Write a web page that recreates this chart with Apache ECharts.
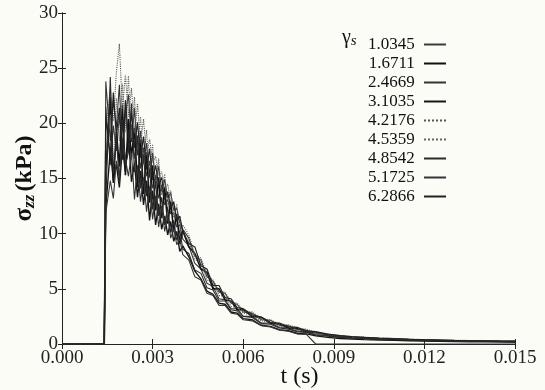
<!DOCTYPE html>
<html>
<head>
<meta charset="utf-8">
<script src="https://cdn.jsdelivr.net/npm/echarts@6/dist/echarts.min.js"></script>
<style>
  html, body { margin: 0; padding: 0; background: #fcfcf7; }
  #chart { width: 545px; height: 390px; }
</style>
</head>
<body>
<div id="chart"></div>
<script>
// time samples (s)
const times = [0, 0.0014, 0.00145, 0.0016, 0.0017, 0.0018, 0.0019, 0.0020, 0.0021, 0.0022, 0.0023, 0.0024, 0.0025, 0.0026, 0.0027, 0.0028, 0.0029, 0.0030, 0.0031, 0.0032, 0.0033, 0.0034, 0.0035, 0.0036, 0.0037, 0.0038, 0.0039, 0.0040,
  0.0042, 0.0044, 0.0046, 0.0048, 0.0050, 0.0052, 0.0054, 0.0056, 0.0058, 0.0060,
  0.0063, 0.0066, 0.0069, 0.0072, 0.0075, 0.0078, 0.0081, 0.0084,
  0.0088, 0.0092, 0.0096, 0.0100,
  0.0105, 0.0110, 0.0115, 0.0120, 0.0125, 0.0130, 0.0135, 0.0140, 0.0145, 0.0150];

const seriesNames = ['1.0345', '1.6711', '2.4669', '3.1035', '4.2176', '4.5359', '4.8542', '5.1725', '6.2866'];

const s1 = [0, 0, 21.5, 16.2, 19.8, 17.5, 20.6, 18.1, 21.2, 17.4, 19.9, 16.8, 18.7, 15.9, 17.8, 15.2, 16.6, 14.1, 15.3, 13.2, 14.4, 12.6, 13.1, 11.8, 11.9, 10.6, 10.8, 9.5,
  8.9, 7.3, 6.8, 5.5, 5.2, 4.1, 4.0, 3.2, 3.2, 2.5, 2.5, 1.9, 1.9, 1.5, 1.45, 1.15, 1.1, 0.85,
  0.75, 0.62, 0.55, 0.5, 0.44, 0.4, 0.36, 0.33, 0.3, 0.28, 0.26, 0.24, 0.22, 0.21];
const s2 = [0, 0, 15.8, 22.4, 14.6, 19.2, 16.1, 21.7, 15.3, 20.4, 16.9, 19.6, 14.2, 18.5, 13.6, 17.4, 12.8, 16.2, 12.1, 15.1, 11.4, 14.2, 10.9, 12.9, 10.2, 11.8, 9.1, 10.3,
  8.8, 8.2, 6.8, 6.5, 5.0, 5.0, 4.0, 3.9, 3.1, 3.1, 2.5, 2.4, 1.9, 1.8, 1.45, 1.4, 1.1, 1.05,
  0.82, 0.7, 0.6, 0.55, 0.48, 0.43, 0.39, 0.35, 0.32, 0.3, 0.28, 0.26, 0.24, 0.23];
const s3 = [0, 0, 23.8, 18.4, 22.1, 19.6, 23.5, 17.2, 20.8, 22.6, 18.3, 21.4, 17.1, 19.3, 16.4, 18.2, 15.1, 17.3, 14.6, 16.1, 13.8, 14.9, 13.2, 13.7, 12.1, 12.3, 11.0, 10.4,
  9.6, 8.0, 7.6, 6.1, 5.7, 4.7, 4.6, 3.7, 3.6, 2.9, 2.8, 2.2, 2.15, 1.7, 1.65, 1.3, 1.25, 1.0,
  0.88, 0.74, 0.64, 0.6, 0.52, 0.46, 0.42, 0.38, 0.35, 0.32, 0.3, 0.28, 0.26, 0.25];
const s4 = [0, 0, 12.4, 17.6, 14.8, 16.3, 14.2, 17.8, 15.6, 18.9, 14.7, 16.4, 13.3, 15.7, 12.6, 14.8, 11.2, 13.9, 10.8, 12.7, 10.4, 11.6, 9.9, 11.1, 9.3, 10.2, 8.4, 8.9,
  7.9, 6.6, 5.9, 4.8, 4.5, 3.7, 3.6, 2.9, 2.8, 2.3, 2.2, 1.7, 1.6, 1.3, 1.2, 0.95, 0.92, 0.74,
  0.6, 0.5, 0.44, 0.4, 0.36, 0.33, 0.3, 0.27, 0.25, 0.23, 0.21, 0.2, 0.19, 0.18];
const s5 = [0, 0, 19.4, 23.1, 20.2, 24.6, 27.2, 21.3, 24.4, 20.6, 23.2, 19.1, 21.8, 18.2, 20.4, 17.1, 18.6, 16.4, 17.0, 15.3, 15.6, 14.2, 14.5, 12.9, 12.6, 11.5, 11.2, 10.1,
  9.3, 7.7, 7.3, 5.8, 5.5, 4.4, 4.3, 3.4, 3.3, 2.8, 2.6, 2.1, 2.0, 1.6, 1.55, 1.25, 1.15, 0.9,
  0.8, 0.68, 0.6, 0.55, 0.48, 0.44, 0.4, 0.36, 0.33, 0.31, 0.29, 0.27, 0.25, 0.24];
const s6 = [0, 0, 17.3, 20.8, 16.1, 22.3, 18.4, 23.6, 19.2, 24.3, 18.7, 22.4, 17.6, 20.6, 16.3, 19.4, 15.4, 18.1, 14.2, 16.8, 13.5, 15.4, 12.4, 13.9, 11.5, 12.7, 10.3, 10.8,
  9.9, 8.1, 7.8, 6.3, 5.8, 4.8, 4.7, 3.8, 3.7, 3.0, 2.9, 2.3, 2.2, 1.8, 1.75, 1.45, 1.35, 1.05,
  0.9, 0.78, 0.66, 0.62, 0.55, 0.5, 0.45, 0.4, 0.37, 0.34, 0.32, 0.3, 0.28, 0.27];
const s7 = [0, 0, 13.1, 24.2, 15.4, 18.8, 14.6, 20.3, 16.2, 17.4, 21.8, 15.6, 18.9, 14.1, 17.2, 13.4, 15.9, 12.2, 14.7, 11.6, 13.3, 10.8, 12.4, 10.1, 11.2, 9.4, 10.3, 8.6,
  8.2, 6.7, 6.4, 5.1, 4.9, 3.9, 3.9, 3.1, 3.0, 2.5, 2.4, 1.85, 1.8, 1.45, 1.35, 1.1, 1.05, 0.8,
  0.7, 0.6, 0.52, 0.47, 0.42, 0.38, 0.34, 0.31, 0.28, 0.26, 0.24, 0.22, 0.2, 0.19];
const s8 = [0, 0, 11.9, 14.8, 13.2, 16.6, 15.1, 18.4, 16.8, 15.2, 17.3, 13.1, 16.2, 12.9, 15.1, 12.0, 14.3, 11.3, 13.4, 10.6, 12.5, 10.2, 11.6, 9.6, 10.4, 9.0, 9.5, 8.1,
  7.6, 6.1, 5.8, 4.6, 4.4, 3.5, 3.5, 2.8, 2.7, 2.2, 2.1, 1.65, 1.55, 1.25, 1.15, 0.9, 0.86, 0,
  0, 0, 0, 0, 0, 0, 0, 0, 0, 0, 0, 0, 0, 0];
const s9 = [0, 0, 20.6, 17.1, 22.8, 18.9, 21.4, 16.7, 22.1, 18.6, 20.9, 17.8, 20.1, 16.9, 18.8, 15.8, 17.7, 14.9, 16.2, 14.4, 15.1, 13.1, 13.8, 12.3, 12.9, 11.1, 11.6, 10.2,
  9.1, 8.8, 7.1, 6.8, 5.3, 5.3, 4.2, 4.1, 3.3, 3.2, 2.65, 2.45, 1.95, 1.9, 1.55, 1.5, 1.2, 1.12,
  0.9, 0.76, 0.66, 0.6, 0.53, 0.48, 0.43, 0.39, 0.36, 0.33, 0.31, 0.29, 0.27, 0.26];

const allValues = [s1, s2, s3, s4, s5, s6, s7, s8, s9];

const xTickLabels = ['0.000', '0.003', '0.006', '0.009', '0.012', '0.015'];
const yTickLabels = ['0', '5', '10', '15', '20', '25', '30'];

// styles
const lineColors = ['#3a3a3a', '#111111', '#333333', '#161616', '#555555', '#666666', '#2a2a2a', '#353535', '#222222'];
const lineWidths = [1.1, 1.6, 1.1, 1.4, 1.1, 1.1, 1.1, 1.1, 1.2];
const lineTypes = ['solid', 'solid', 'solid', 'solid', 'dotted', 'dotted', 'solid', 'solid', 'solid'];

const serif = 'Liberation Serif';

const series = seriesNames.map((name, i) => ({
  name: name,
  type: 'line',
  xAxisIndex: 0,
  yAxisIndex: 0,
  symbol: 'none',
  showSymbol: false,
  animation: false,
  data: times.map((t, j) => [t, allValues[i][j]]),
  lineStyle: { color: lineColors[i], width: lineWidths[i], type: lineTypes[i] },
  itemStyle: { color: lineColors[i] }
}));

const chart = echarts.init(document.getElementById('chart'), null, { renderer: 'canvas' });
chart.setOption({
  backgroundColor: '#fcfcf7',
  animation: false,
  grid: { left: 62, right: 30, top: 13, bottom: 46, containLabel: false, outerBoundsMode: 'none' },
  xAxis: [{
    type: 'value', min: 0, max: 0.015, interval: 0.003,
    name: 't (s)', nameLocation: 'middle', nameGap: 21, nameMoveOverlap: false,
    nameTextStyle: { fontFamily: serif, fontSize: 24, color: '#111', padding: [0, 0, 0, 22] },
    axisLine: { show: true, lineStyle: { color: '#222', width: 1 } },
    axisTick: { show: true, inside: true, length: 5, lineStyle: { color: '#222' } },
    axisLabel: { fontFamily: serif, fontSize: 19, color: '#222', margin: 5,
      formatter: (v) => xTickLabels[Math.round(v / 0.003)] },
    splitLine: { show: false }
  }, {
    type: 'value', min: 0, max: 0.015, interval: 0.003, position: 'top',
    axisLine: { show: true, lineStyle: { color: '#222', width: 1 } },
    axisTick: { show: true, inside: true, length: 5, lineStyle: { color: '#222' } },
    axisLabel: { show: false }, splitLine: { show: false }
  }],
  yAxis: [{
    type: 'value', min: 0, max: 30, interval: 5,
    name: '{s|σ}{sub|zz} {u|(kPa)}', nameLocation: 'middle', nameGap: 24, nameMoveOverlap: false,
    nameTextStyle: {
      rich: {
        s: { fontFamily: serif, fontSize: 25, fontWeight: 'bold', color: '#111' },
        sub: { fontFamily: serif, fontSize: 17, fontStyle: 'italic', fontWeight: 'bold', color: '#111', verticalAlign: 'bottom', padding: [9, 0, 0, 0] },
        u: { fontFamily: serif, fontSize: 24, fontWeight: 'bold', color: '#111' }
      }
    },
    axisLine: { show: true, lineStyle: { color: '#222', width: 1 } },
    axisTick: { show: true, inside: true, length: 4, lineStyle: { color: '#222' } },
    axisLabel: { fontFamily: serif, fontSize: 19, color: '#222', margin: 4,
      formatter: (v) => yTickLabels[Math.round(v / 5)] },
    splitLine: { show: false }
  }, {
    type: 'value', min: 0, max: 30, interval: 5, position: 'right',
    axisLine: { show: true, lineStyle: { color: '#222', width: 1 } },
    axisTick: { show: true, inside: true, length: 4, lineStyle: { color: '#222' } },
    axisLabel: { show: false }, splitLine: { show: false }
  }],
  legend: {
    orient: 'vertical', align: 'right',
    right: 93, top: 30,
    itemWidth: 22, itemHeight: 12, itemGap: 0,
    data: seriesNames,
    formatter: (n) => n + ' ',
    itemStyle: { opacity: 0 },
    textStyle: { fontFamily: serif, fontSize: 17, color: '#111', lineHeight: 19 },
    selectedMode: false
  },
  graphic: [{
    type: 'text', left: 342, top: 28,
    style: {
      text: '{g|γ}{s|s}',
      rich: {
        g: { fontFamily: serif, fontSize: 20, fill: '#111' },
        s: { fontFamily: serif, fontSize: 15, fontStyle: 'italic', fill: '#111', padding: [6, 0, 0, 0] }
      }
    }
  }],
  series: series
});
</script>
</body>
</html>
